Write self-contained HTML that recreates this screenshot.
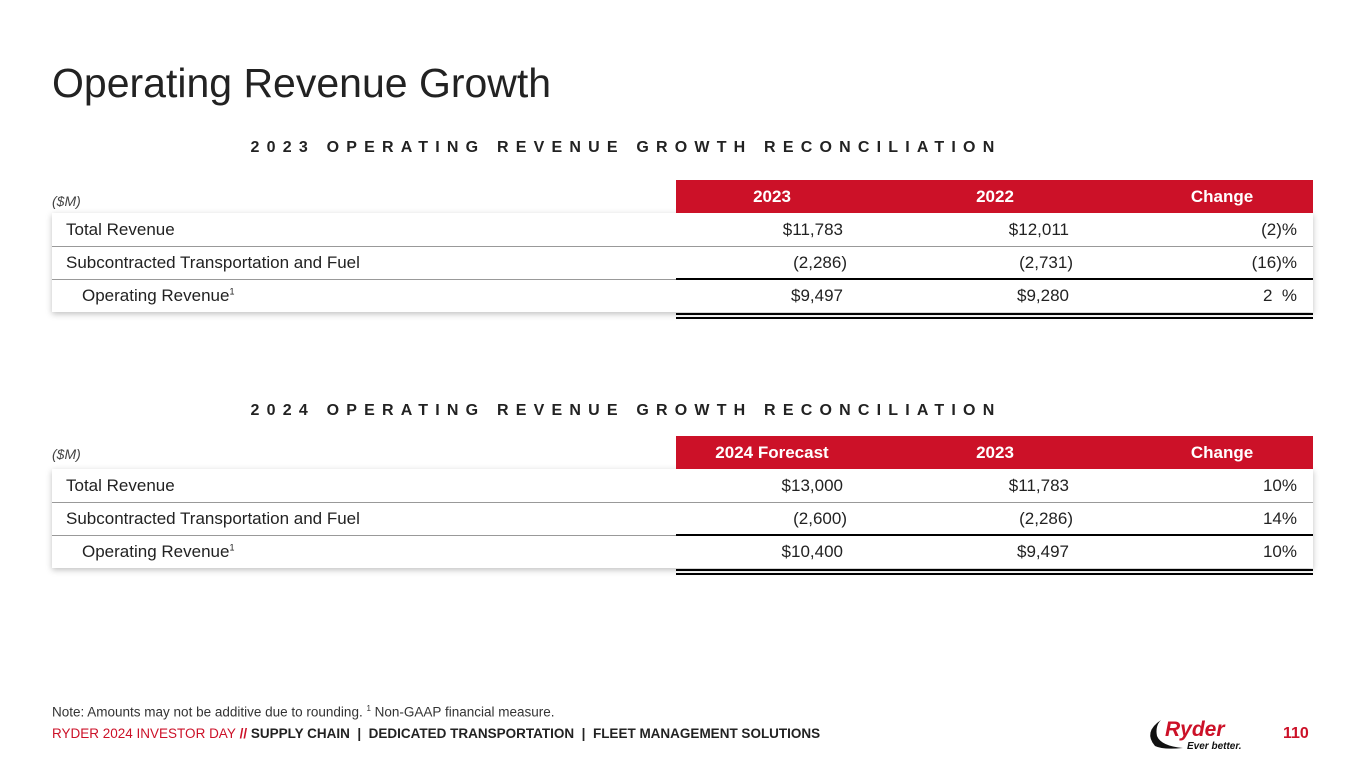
<!DOCTYPE html>
<html><head><meta charset="utf-8"><style>
body{margin:0;width:1365px;height:768px;background:#fff;font-family:"Liberation Sans",sans-serif;color:#222;position:relative;overflow:hidden}
.abs{position:absolute;white-space:nowrap}
.title{left:52px;top:60px;font-size:41px;color:#222;letter-spacing:0px}
.sec{left:0;width:1252px;text-align:center;font-size:16px;font-weight:bold;letter-spacing:7.2px;color:#222}
.box{position:absolute;left:52px;width:1261px;background:#fff;box-shadow:0 2px 6px rgba(0,0,0,0.25)}
.hdr{position:absolute;left:676px;width:637px;height:33px;background:#cc1128;color:#fff;font-weight:bold;font-size:17px}
.hdr span{position:absolute;top:7px;transform:translateX(-50%)}
.unit{left:52px;font-size:14px;font-style:italic;color:#444}
.row{position:absolute;left:0;width:1261px;height:33px;font-size:17px}
.row .lbl{position:absolute;left:14px;top:7px}
.row .v{position:absolute;top:7px;text-align:right}
.line{position:absolute;height:1px;background:#999}
.blk{position:absolute;left:676px;width:637px;background:#000}
.foot{font-size:13.5px;color:#333}
</style></head><body>
<div class="abs title">Operating Revenue Growth</div>

<div class="abs sec" style="top:139px">2023 OPERATING REVENUE GROWTH RECONCILIATION</div>
<div class="abs unit" style="top:193px">($M)</div>
<div class="box" style="top:213px;height:99px">
 <div class="row" style="top:0"><span class="lbl">Total Revenue</span><span class="v" style="right:470px">$11,783</span><span class="v" style="right:244px">$12,011</span><span class="v" style="right:16px">(2)%</span></div>
 <div class="line" style="top:33px;left:0;width:1261px"></div>
 <div class="row" style="top:33px"><span class="lbl">Subcontracted Transportation and Fuel</span><span class="v" style="right:466px">(2,286)</span><span class="v" style="right:240px">(2,731)</span><span class="v" style="right:16px">(16)%</span></div>
 <div class="line" style="top:66px;left:0;width:1261px"></div>
 <div class="row" style="top:66px"><span class="lbl" style="left:30px">Operating Revenue<sup style="font-size:9px">1</sup></span><span class="v" style="right:470px">$9,497</span><span class="v" style="right:244px">$9,280</span><span class="v" style="right:16px">2 &nbsp;%</span></div>
</div>
<div class="hdr" style="top:180px"><span style="left:96px">2023</span><span style="left:319px">2022</span><span style="left:546px">Change</span></div>
<div class="blk" style="top:278px;height:2px"></div>
<div class="blk" style="top:313px;height:2px"></div>
<div class="blk" style="top:317px;height:2px"></div>

<div class="abs sec" style="top:402px">2024 OPERATING REVENUE GROWTH RECONCILIATION</div>
<div class="abs unit" style="top:446px">($M)</div>
<div class="box" style="top:469px;height:99px">
 <div class="row" style="top:0"><span class="lbl">Total Revenue</span><span class="v" style="right:470px">$13,000</span><span class="v" style="right:244px">$11,783</span><span class="v" style="right:16px">10%</span></div>
 <div class="line" style="top:33px;left:0;width:1261px"></div>
 <div class="row" style="top:33px"><span class="lbl">Subcontracted Transportation and Fuel</span><span class="v" style="right:466px">(2,600)</span><span class="v" style="right:240px">(2,286)</span><span class="v" style="right:16px">14%</span></div>
 <div class="line" style="top:66px;left:0;width:1261px"></div>
 <div class="row" style="top:66px"><span class="lbl" style="left:30px">Operating Revenue<sup style="font-size:9px">1</sup></span><span class="v" style="right:470px">$10,400</span><span class="v" style="right:244px">$9,497</span><span class="v" style="right:16px">10%</span></div>
</div>
<div class="hdr" style="top:436px"><span style="left:96px">2024 Forecast</span><span style="left:319px">2023</span><span style="left:546px">Change</span></div>
<div class="blk" style="top:534px;height:2px"></div>
<div class="blk" style="top:569px;height:2px"></div>
<div class="blk" style="top:573px;height:2px"></div>

<div class="abs foot" style="left:52px;top:704px">Note: Amounts may not be additive due to rounding. <sup style="font-size:8px">1</sup> Non-GAAP financial measure.</div>
<div class="abs" style="left:52px;top:726px;font-size:13.5px;font-weight:bold;letter-spacing:0px"><span style="color:#cc1128;font-weight:normal">RYDER 2024 INVESTOR DAY</span> <span style="color:#cc1128">//</span> SUPPLY CHAIN &nbsp;| &nbsp;DEDICATED TRANSPORTATION &nbsp;| &nbsp;FLEET MANAGEMENT SOLUTIONS</div>
<div class="abs" style="left:1143px;top:712px">
 <svg width="130" height="40"><path d="M18 8 Q0 20 12 34 Q20 38 40 36 Q18 34 14 24 Q12 14 18 8Z" fill="#111"/><text x="22" y="24" font-family="Liberation Sans" font-weight="bold" font-style="italic" font-size="21" fill="#cc1128">Ryder</text><text x="44" y="37" font-family="Liberation Sans" font-weight="bold" font-style="italic" font-size="10" fill="#111">Ever better.</text></svg>
</div>
<div class="abs" style="left:1283px;top:725px;font-size:16px;font-weight:bold;color:#cc1128">110</div>
</body></html>
